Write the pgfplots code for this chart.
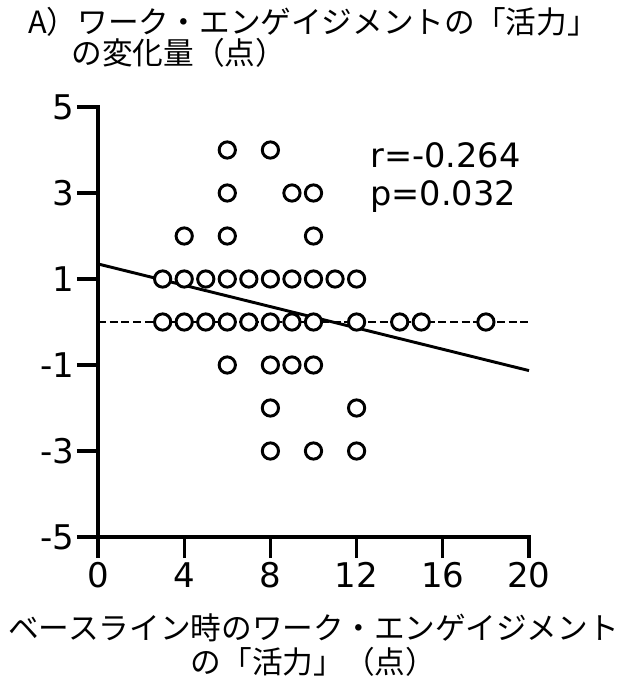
\documentclass[border=0pt]{standalone}
\usepackage{fontspec}
\setmainfont{DejaVu Sans}
\newfontfamily\cjk{Noto Sans CJK JP}
\usepackage{pgfplots}
\pgfplotsset{compat=1.18}
\begin{document}
\begin{tikzpicture}
\begin{axis}[name=ax,
  scale only axis, width=323.25pt, height=322.5pt,
  xmin=0, xmax=20, ymin=-5, ymax=5,
  axis lines*=left,
  axis line style={line width=2.4pt, line cap=rect},
  every tick/.style={line width=2.4pt, black},
  tick align=outside,
  major tick length=15.75pt,
  xtick={0,4,8,12,16,20},
  ytick={-5,-3,-1,1,3,5},
  yticklabels={-5,-3,-1,1,3,5},
  xticklabels={0,4,8,12,16,20},
  tick label style={font=\fontsize{25.5}{30}\selectfont},
  yticklabel style={inner sep=2pt},
  xticklabel style={inner sep=3pt},
  clip=false,
]
\addplot[line width=2pt, dash pattern=on 6pt off 2.8pt] coordinates {(0,0) (20,0)};
\addplot[line width=2.2pt] coordinates {(0,1.35) (20,-1.13)};
\addplot[only marks, mark=*, mark size=6.1pt,
  mark options={fill=white, draw=black, line width=2.2pt}] table {
x y
6 4
8 4
6 3
9 3
10 3
4 2
6 2
10 2
3 1
4 1
5 1
6 1
7 1
8 1
9 1
10 1
11 1
12 1
3 0
4 0
5 0
6 0
7 0
8 0
9 0
10 0
12 0
14 0
15 0
18 0
6 -1
8 -1
9 -1
10 -1
8 -2
12 -2
8 -3
10 -3
12 -3
};
\node[anchor=base west, inner sep=0pt, font=\fontsize{25.2}{28}\selectfont] at (axis cs:12.62,3.60) {r=-0.264};
\node[anchor=base west, inner sep=0pt, font=\fontsize{25.2}{28}\selectfont] at (axis cs:12.62,2.70) {p=0.032};
\end{axis}
\node[anchor=west, inner sep=0pt, font=\cjk\fontsize{23}{26}\selectfont] at ([xshift=-52.5pt, yshift=386.25pt]ax.south west) {A）ワーク・エンゲイジメントの「活力」};
\node[anchor=west, inner sep=0pt, font=\cjk\fontsize{23}{26}\selectfont] at ([xshift=-20pt, yshift=363pt]ax.south west) {の変化量（点）};
\node[inner sep=0pt, font=\cjk\fontsize{23}{26}\selectfont] at ([xshift=161.6pt, yshift=-68.25pt]ax.south west) {ベースライン時のワーク・エンゲイジメント};
\node[inner sep=0pt, font=\cjk\fontsize{23}{26}\selectfont] at ([xshift=161.6pt, yshift=-93.75pt]ax.south west) {の「活力」（点）};
\pgfresetboundingbox
\path[use as bounding box] ([xshift=-73.5pt, yshift=-106.5pt]ax.south west) rectangle ([xshift=393.75pt, yshift=402.75pt]ax.south west);
\end{tikzpicture}
\end{document}
